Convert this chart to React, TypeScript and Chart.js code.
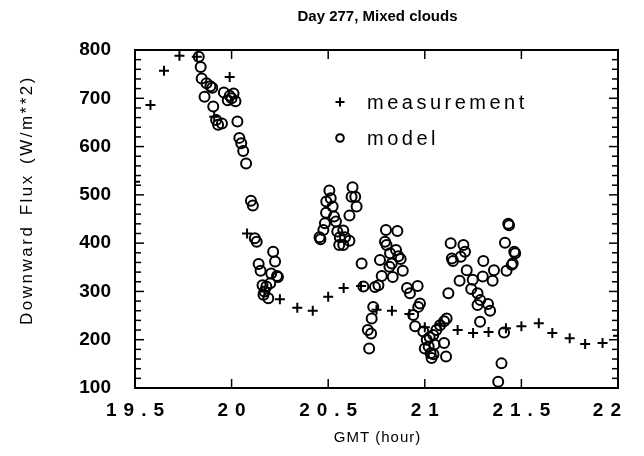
import { useEffect, useRef } from "react";
import { Chart, registerables } from "chart.js";

Chart.register(...registerables);

const FONT = '"Liberation Sans", Arial, Helvetica, sans-serif';

const chartTitle = "Day 277, Mixed clouds";
const xTitle = "GMT (hour)";
const yTitle = "Downward Flux (W/m**2)";
const legendLabels = ["measurement", "model"];

const xMin = 19.5;
const xMax = 22;
const xStep = 0.5;
const yMin = 100;
const yMax = 800;
const yStep = 100;
const yMinorStep = 20;

const measHours = [
  19.5, 19.58, 19.65, 19.73, 19.82, 19.91, 19.99, 20.08, 20.17, 20.25,
  20.34, 20.42, 20.5, 20.58, 20.67, 20.75, 20.83, 20.92, 21.0, 21.08,
  21.17, 21.25, 21.33, 21.42, 21.5, 21.59, 21.66, 21.75, 21.83, 21.92,
  22.0,
];
const measFlux = [
  527, 686, 757, 788, 786, 662, 744, 420, 300, 284,
  266, 260, 289, 307, 311, 262, 260, 253, 226, 233,
  220, 214, 216, 224, 228, 234, 214, 203, 191, 193,
  208,
];

const modelHours = [
  19.83, 19.84, 19.845, 19.86, 19.87, 19.89, 19.9, 19.905, 19.92, 19.93,
  19.95, 19.96, 19.98, 19.99, 20.0, 20.01, 20.02, 20.03, 20.04, 20.05,
  20.06, 20.075, 20.1, 20.11, 20.12, 20.13, 20.14, 20.15, 20.16, 20.165,
  20.17, 20.18, 20.19, 20.2, 20.205, 20.215, 20.225, 20.235, 20.24, 20.455,
  20.46, 20.475, 20.483, 20.489, 20.49, 20.506, 20.513, 20.523, 20.53, 20.54,
  20.547, 20.557, 20.56, 20.578, 20.578, 20.587, 20.61, 20.61, 20.621, 20.626,
  20.64, 20.647, 20.673, 20.682, 20.705, 20.712, 20.722, 20.725, 20.733, 20.742,
  20.76, 20.768, 20.777, 20.794, 20.799, 20.802, 20.817, 20.82, 20.829, 20.834,
  20.851, 20.858, 20.863, 20.875, 20.886, 20.908, 20.923, 20.94, 20.95, 20.963,
  20.966, 20.975, 20.992, 21.0, 21.01, 21.02, 21.025, 21.03, 21.035, 21.044,
  21.045, 21.05, 21.06, 21.079, 21.1, 21.1, 21.11, 21.113, 21.122, 21.134,
  21.14, 21.146, 21.18, 21.186, 21.2, 21.208, 21.217, 21.24, 21.248, 21.273,
  21.273, 21.286, 21.287, 21.3, 21.303, 21.327, 21.338, 21.351, 21.358, 21.38,
  21.397, 21.41, 21.415, 21.423, 21.432, 21.436, 21.45, 21.455, 21.463, 21.468,
];
const modelFlux = [
  786, 765, 741, 703, 731, 725, 722, 683, 655, 645,
  648, 712, 696, 705, 700, 710, 694, 652, 618, 607,
  591, 565, 488, 478, 410, 403, 357, 343, 313, 293,
  300, 310, 286, 317, 337, 382, 362, 332, 330, 412,
  408, 427, 441, 463, 486, 509, 493, 476, 455, 445,
  424, 396, 412, 426, 396, 412, 405, 457, 496, 516,
  496, 476, 358, 310, 220, 182, 213, 244, 268, 309,
  313, 365, 332, 403, 427, 396, 351, 379, 358, 330,
  386, 425, 373, 367, 343, 307, 296, 251, 228, 311,
  268, 275, 217, 182, 200, 186, 205, 172, 162, 210,
  170, 190, 220, 230, 238, 193, 165, 244, 296, 400,
  368, 363, 322, 372, 396, 382, 344, 305, 324, 296,
  272, 237, 282, 331, 363, 274, 260, 322, 344, 113,
  151, 215, 401, 343, 440, 437, 355, 358, 382, 379,
];

const fmtHour = (v: number) => String(Math.round(v * 10) / 10);

const decorPlugin = {
  id: "decor",
  afterDraw(chart: any) {
    const { ctx, chartArea: a, scales } = chart;
    const xs = scales.x;
    const ys = scales.y;
    const line = (x1: number, y1: number, x2: number, y2: number) => {
      ctx.beginPath();
      ctx.moveTo(x1, y1);
      ctx.lineTo(x2, y2);
      ctx.stroke();
    };
    ctx.save();
    ctx.strokeStyle = "#000";
    ctx.fillStyle = "#000";
    ctx.lineWidth = 2;
    ctx.strokeRect(a.left, a.top, a.right - a.left, a.bottom - a.top);

    // x ticks (inward, bottom and top)
    ctx.lineWidth = 1.5;
    xs.ticks.forEach((t: any) => {
      const px = xs.getPixelForValue(t.value);
      if (px <= a.left + 1 || px >= a.right - 1) return;
      line(px, a.bottom, px, a.bottom - 9);
      line(px, a.top, px, a.top + 9);
    });
    // y ticks (inward, left and right), minor every 20
    for (let v = yMin; v <= yMax; v += yMinorStep) {
      const py = ys.getPixelForValue(v);
      const len = v % yStep === 0 ? 9 : 6;
      line(a.left, py, a.left + len, py);
      line(a.right, py, a.right - len, py);
    }

    // x tick labels (wide spaced)
    ctx.font = `bold 19px ${FONT}`;
    ctx.textAlign = "left";
    ctx.textBaseline = "middle";
    (ctx as any).letterSpacing = "7px";
    xs.ticks.forEach((t: any) => {
      const px = xs.getPixelForValue(t.value);
      const lbl = fmtHour(t.value);
      const w = ctx.measureText(lbl).width - 7;
      let left = px - w / 2;
      if (left + w > 621) left = 621 - w;
      ctx.fillText(lbl, left, 411);
    });

    // title
    ctx.textAlign = "center";
    (ctx as any).letterSpacing = "0px";
    ctx.font = `bold 15px ${FONT}`;
    ctx.fillText(chartTitle, (a.left + a.right) / 2 + 1, 17);

    // x axis title
    (ctx as any).letterSpacing = "1px";
    ctx.font = `15px ${FONT}`;
    ctx.fillText(xTitle, (a.left + a.right) / 2 + 1, 438);

    // y axis title
    ctx.save();
    ctx.translate(27, 200);
    ctx.rotate(-Math.PI / 2);
    (ctx as any).letterSpacing = "2.5px";
    (ctx as any).wordSpacing = "2px";
    ctx.font = `17px ${FONT}`;
    ctx.fillText(yTitle, 0, 0);
    ctx.restore();

    // legend
    const lx = 340;
    const ly1 = 102;
    const ly2 = 138;
    ctx.lineWidth = 2;
    line(lx - 4.5, ly1, lx + 4.5, ly1);
    line(lx, ly1 - 4.5, lx, ly1 + 4.5);
    ctx.beginPath();
    ctx.arc(lx, ly2, 3.8, 0, Math.PI * 2);
    ctx.stroke();
    ctx.textAlign = "left";
    (ctx as any).letterSpacing = "3.5px";
    (ctx as any).wordSpacing = "0px";
    ctx.font = `20px ${FONT}`;
    ctx.fillText(legendLabels[0], 367, ly1 + 1);
    ctx.fillText(legendLabels[1], 367, ly2 + 1);
    ctx.restore();
  },
};

export default function App() {
  const canvasRef = useRef<HTMLCanvasElement | null>(null);

  useEffect(() => {
    document.body.style.margin = "0";
    const canvas = canvasRef.current;
    if (!canvas) return;
    const chart = new Chart(canvas, {
      type: "scatter",
      data: {
        datasets: [
          {
            label: legendLabels[0],
            data: measHours.map((h, i) => ({ x: h, y: measFlux[i] })),
            pointStyle: "cross",
            pointRadius: 5,
            pointBorderWidth: 2,
            pointBorderColor: "#000",
            pointBackgroundColor: "#000",
            clip: 0,
          } as any,
          {
            label: legendLabels[1],
            data: modelHours.map((h, i) => ({ x: h, y: modelFlux[i] })),
            pointStyle: "circle",
            pointRadius: 5,
            pointBorderWidth: 2,
            pointBorderColor: "#000",
            pointBackgroundColor: "rgba(0,0,0,0)",
            clip: 0,
          } as any,
        ],
      },
      options: {
        animation: false,
        responsive: false,
        events: [],
        layout: { padding: { left: 0, top: 50, right: 26, bottom: 0 } },
        plugins: {
          legend: { display: false },
          tooltip: { enabled: false },
          title: { display: false },
        },
        scales: {
          x: {
            type: "linear",
            min: xMin,
            max: xMax,
            ticks: { stepSize: xStep, display: false, callback: (v: any) => fmtHour(Number(v)) },
            grid: { display: false, drawTicks: false },
            border: { display: false },
            afterFit: (s: any) => {
              s.height = 68;
            },
          },
          y: {
            type: "linear",
            min: yMin,
            max: yMax,
            ticks: {
              stepSize: yStep,
              color: "#000",
              padding: 24,
              font: { family: FONT, size: 19, weight: "bold" },
            },
            grid: { display: false, drawTicks: false },
            border: { display: false },
            afterFit: (s: any) => {
              s.width = 135;
            },
          },
        },
      } as any,
      plugins: [decorPlugin],
    });
    return () => chart.destroy();
  }, []);

  return (
    <div style={{ width: 644, height: 456, background: "#fff" }}>
      <canvas ref={canvasRef} width={644} height={456} style={{ display: "block" }} />
    </div>
  );
}
